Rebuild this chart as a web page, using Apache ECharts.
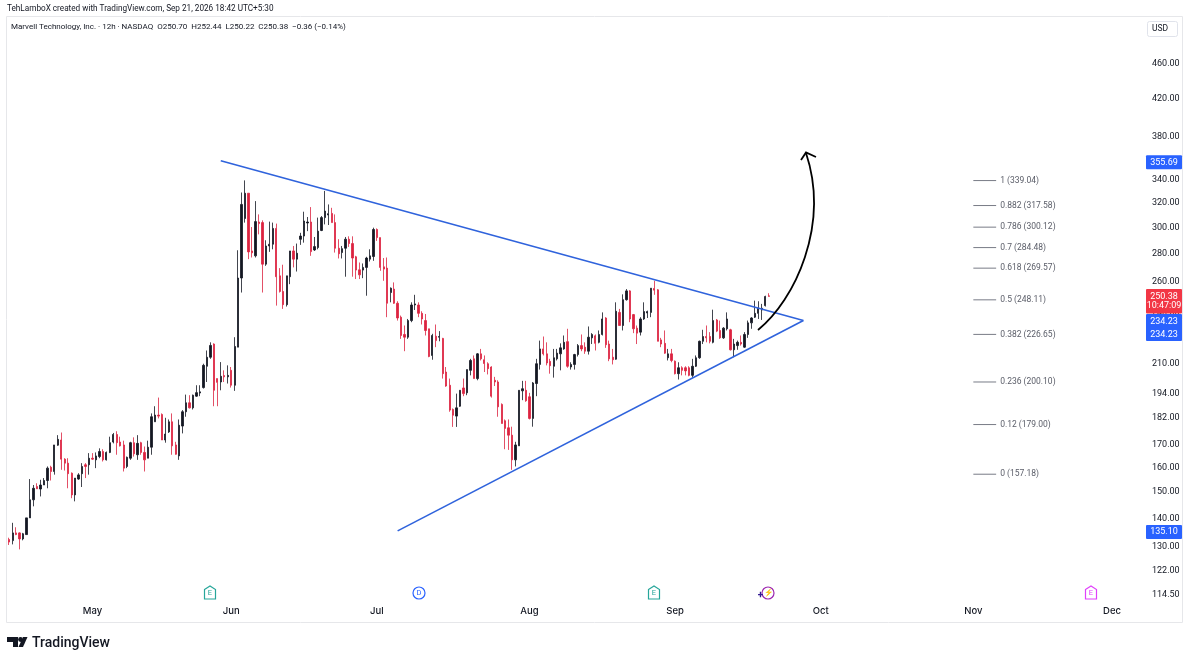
<!DOCTYPE html>
<html>
<head>
    <meta charset="utf-8">
    <title>Marvell Technology, Inc. - 12h</title>
    <script src="https://cdn.jsdelivr.net/npm/echarts@6/dist/echarts.min.js"></script>
    <style>
        body, html { margin: 0; padding: 0; height: 100%; overflow: hidden; background: #fff; }
        #main { width: 1200px; height: 662px; }
    </style>
</head>
<body>
    <div id="main"></div>
    <script>
        var opens = [132.5,132.1,134.8,134.8,132.7,134.2,140.2,147,152.2,151.2,
            152.8,154.6,160.1,158.3,169.6,171.9,163.5,161.8,157.6,148.9,
            155.2,157.4,161.1,161.1,163.9,163.2,164.6,166.8,163.2,166.4,
            171,174.4,171,169.7,160.4,163.9,170.7,165.4,170.7,166.4,
            163.9,168.7,180.3,183.5,183.8,171.9,175.6,180.3,169.7,164.9,
            178.3,185.1,189.5,187,192.8,194.4,197.2,208.5,213.5,221,
            201.9,200.1,203.5,202.8,206.3,198.4,219.2,262.7,307,328,
            282,278.4,304.2,303.7,272.4,285.7,287,299.1,264.2,253.6,
            245,263.6,282,276,290.7,293.2,303.4,304.2,282.7,284.5,
            297.5,307.7,309.8,311.1,303.7,284,280.8,284,290.8,287.5,
            277.7,268.4,268.2,270.1,276,277.9,298.3,292,270.5,269.6,
            252.9,255.2,245.9,237.1,226.6,225,235,244.8,244.8,239.5,
            235,230,214.5,225.6,225,224.3,205.4,198.4,186.2,183,
            187.8,197,194.5,206.3,212.6,201.9,215.4,212.1,209.9,208.1,
            201,200.1,188.7,180.8,177.5,174.1,163.2,169.3,195.5,195.8,
            192.5,181.9,199.3,209.5,218.2,215.4,211.2,208.5,212.6,215.4,
            218.2,222.4,208.1,209.5,215,220.1,219.2,216.9,224.6,225.8,
            222,226.6,236.6,221,213.5,212.4,240.1,232,248.2,254,
            238.7,230.4,228,236,239.7,240.1,255.6,254.7,223.4,221.4,
            213.2,215.4,211.3,204.5,207.7,207.7,207.7,203.6,208.5,213.2,
            222.6,225.4,225.4,222,235.4,229,224.6,230,229.4,217.7,
            220.1,222,219.2,226.6,233.6,237.1,239.5,241.6,244.4,250.7];
        var closes = [131.6,134.8,134.2,132.7,134.5,140.2,147,151.5,151.3,152.8,
            154.6,159.7,158.3,169.7,172.2,163.5,161.8,157.4,148.9,155.6,
            156.9,160.4,160.4,163.9,163.5,164.9,166.8,163.2,166.4,170.7,
            174.4,170.7,169.3,159.7,164.3,170.7,165.8,170.4,166.4,163.2,
            168.7,182.7,183.5,183,171.9,174.6,180.3,169.3,165.6,178.7,
            185.1,189.5,187,193.3,194.6,195,209,213.5,220.2,195.8,
            199.9,203.1,202.8,203.6,198.4,219.6,262.7,318.5,328,281.3,
            280.6,304.5,302.9,272.4,285.7,287,299.1,263.6,253.6,245,
            264.2,282,276,280.3,293.2,305,304.2,281.5,285.2,297,
            307.7,313,310.9,303.7,284,279.9,283.7,290.8,287.5,276.8,
            268.2,264.9,270.1,276.8,278.4,298.3,292,270.1,268.9,245.9,
            255.8,245.9,236.6,226,225,235,244.8,245.5,239.5,236,
            229,213.9,226,223,225.4,204.5,198,185.9,183.4,187,
            195.8,194.1,206.7,211.7,201.9,215.4,212.6,210,207.2,192.8,
            200.1,187.5,179.5,177.2,174.1,163.2,169.7,195.8,196.6,190.5,
            181.9,199.6,209.9,218.2,215.4,210.3,208.8,213.2,215.8,218.8,
            222,208.5,209.5,215,220.1,218.2,216.9,225,226.6,221.4,
            226.6,236,220.6,212.6,212.1,240.8,232,248.2,254,236,
            230,227.4,236,240.6,240.6,255.8,254.5,222.6,221,215.8,
            215.4,211.7,204.5,207.7,206.3,206,203.6,208.5,213.2,222.6,
            225.4,224.6,222.6,235,228.6,224.6,230.4,236,217.7,221,
            222,221,226.6,233.6,236.6,239.5,242.7,242.7,250.3,250.38];
        var highs = [133.1,138.4,136.8,135,134.8,140.2,155.2,152.8,153.5,154.9,
            155.6,160.4,160.7,169.7,174.1,175.3,163.9,163.9,157.9,155.6,
            157.6,161.8,161.8,166.1,166.1,166.4,168.2,167.8,166.8,173.4,
            175.1,175.9,173.4,171.6,164.6,171.1,173.1,174.1,171.1,169,
            171.6,184.3,187.8,192.1,184.3,182.2,181.4,184.3,171.1,181.4,
            185.9,193.6,193.3,193.6,198.4,198.4,209.9,217.3,222,221.4,
            201.9,210.8,206.3,209,208.1,225,282.5,328.6,339.2,328,
            300.2,321.3,310.3,305.5,290,304.5,303.7,302.9,269.6,272,
            264.2,282,285.7,287.5,295.7,312.5,308.2,316.3,292.5,307.7,
            309,330,318.5,315.7,310.3,290.8,285.7,292.5,293,293,
            278.4,273.6,272.9,277.7,283.2,299.7,299.1,292,276.8,277.2,
            256.3,259.7,247.2,238.1,232,236,246.5,251.4,246.5,240.8,
            239.1,230,227,232.6,228.6,224.6,208.1,201.9,186.7,194.1,
            195.8,201.9,206.7,212.6,214.5,215.8,218.2,214.5,210.7,208.5,
            202.8,201,189.2,181.4,181.4,178,171.1,195.8,200.7,200.7,
            194.5,200.1,212.6,223,225.4,222,212.6,218.2,218.2,221.4,
            226,230,210.7,215.4,221,226.6,222,231.4,227.4,226.6,
            229,240.1,237.1,223,218.2,246.5,242.3,251.7,255.2,254.5,
            239.1,232,237.1,246.5,241.2,255.8,260.8,255.2,224.6,229,
            218.2,218.2,211.7,210.7,208.5,208.5,208.5,212.6,214.5,223,
            229.4,232,228,241.8,236,235,231,240.1,230,224,
            223,226,228,235,237.1,247.6,247.2,245.5,250.8,252.44];
        var lows = [130.6,130.8,134,129.1,132.2,134.2,140.2,144.5,151.2,148.3,
            152.8,151.5,154.6,157,169.3,159,158.7,151.5,147.6,146.4,
            154.9,152,155.6,157,163.2,159.7,163.9,162.5,162.9,166.1,
            170.4,165.4,169,158.3,159.7,163.2,164.6,163.2,165.4,158.3,
            163.9,165.4,180.3,181.9,171.9,170.7,175.1,165.4,165.4,163.2,
            174.9,182.7,186.7,186.2,192.5,192.8,196.7,200.1,212.6,187.8,
            187.8,195.8,200.1,199.3,197.2,195.5,219.2,252.9,303.7,276,
            277.2,277.2,294.5,252.9,271.2,281.3,283.2,244.4,252.9,242.3,
            243.8,258.5,270.1,267.2,286.5,288.2,297,278.4,282,283.2,
            297,302.3,301.8,303.7,280.8,276.5,276.5,263.6,285,263.6,
            262,262,262.6,250.8,274.3,274.8,289.5,267.7,260.8,237.1,
            246.5,245.5,235,224,216.9,224,234,241.6,237.1,232.6,
            226,213.5,212.1,219.2,222.6,201.9,197.6,185.1,177.9,177.9,
            187.5,192.8,193.3,203.6,201.9,201,211.7,205.4,204.1,192.1,
            198,182.7,179.5,167.8,167.5,159,160.4,169.3,190.8,190,
            181.4,178,192.8,206.7,214.5,209,204.5,202.4,211.7,206.3,
            217.7,207.7,206.7,206.7,213.9,216.9,215.4,215,221,217.3,
            221.4,226,218.8,211.3,209.5,212.1,232,229,247.6,234,
            227.4,221,226,235.4,236.6,237.1,251.4,222.6,219.2,215.4,
            211.7,210.7,204.1,201.4,203.6,203.6,203.1,202.4,208.1,212.6,
            221,222,221.4,221.4,228,224,224,229,217.3,213.5,
            217.7,220.1,218.8,224.6,230,236.6,236,235.4,243.8,250.22];

        // x axis: 12h bars, room for the future bars on the right
        var barCount = 328;
        var monthNames = ['May', 'Jun', 'Jul', 'Aug', 'Sep', 'Oct', 'Nov', 'Dec'];
        var monthBars = [24, 64, 106, 150, 192, 234, 278, 318];

        var priceTicks = [460, 420, 380, 340, 320, 300, 280, 260, 240, 210, 194, 182, 170, 160, 150, 140, 130, 122, 114.5];

        // trendlines: [bar, price]
        var upperLine = [[61, 357.0], [229, 235.0]];
        var lowerLine = [[112, 135.5], [229, 235.0]];

        var fibNames = ['1', '0.882', '0.786', '0.7', '0.618', '0.5', '0.382', '0.236', '0.12', '0'];
        var fibPrices = [339.04, 317.58, 300.12, 284.48, 269.57, 248.11, 226.65, 200.10, 179.00, 157.18];
        var fibFrom = 278, fibTo = 284;

        var UP = '#131722', DOWN = '#dc2340', BLUE = '#2962ff', LINE = '#2f63dc';
        var FONT = 'Roboto, "Noto Sans", sans-serif';

        var categories = [];
        for (var i = 0; i < barCount; i++) categories.push('b' + i);

        var candles = opens.map(function (o, i) {
            return [o, closes[i], lows[i], highs[i]];
        });

        var trendStyle = { color: LINE, width: 1.6 };

        var chartDom = document.getElementById('main');
        var myChart = echarts.init(chartDom);

        var option = {
            animation: false,
            backgroundColor: '#fff',
            grid: { left: 7.5, right: 55, top: 18, bottom: 58 },
            xAxis: {
                type: 'category',
                data: categories,
                boundaryGap: true,
                axisLine: { show: false },
                axisTick: { show: false },
                splitLine: { show: false },
                axisLabel: {
                    margin: 2,
                    fontSize: 9.5,
                    fontWeight: 500,
                    fontFamily: 'Inter, Roboto, sans-serif',
                    color: '#131722',
                    interval: function (idx) { return monthBars.indexOf(idx) >= 0; },
                    formatter: function (v, idx) { return monthNames[monthBars.indexOf(idx)] || ''; }
                }
            },
            yAxis: {
                type: 'log',
                position: 'right',
                min: 111.9,
                max: 518.9,
                axisLine: { show: false },
                axisTick: { show: false },
                splitLine: { show: false },
                minorSplitLine: { show: false },
                axisLabel: {
                    customValues: priceTicks,
                    margin: 7,
                    fontSize: 9,
                    fontFamily: FONT,
                    color: '#131722',
                    formatter: function (v) { return Number(v).toFixed(2); }
                }
            },
            series: [
                {
                    type: 'candlestick',
                    data: candles,
                    barWidth: 1.8,
                    clip: false,
                    itemStyle: { color: UP, color0: DOWN, borderColor: UP, borderColor0: DOWN, borderWidth: 0.8 }
                },
                { type: 'line', data: upperLine, symbol: 'none', lineStyle: trendStyle, z: 3 },
                { type: 'line', data: lowerLine, symbol: 'none', lineStyle: trendStyle, z: 3 },
                {
                    type: 'custom',
                    coordinateSystem: 'cartesian2d',
                    data: fibPrices.map(function (p) { return [fibFrom, p]; }),
                    clip: false,
                    renderItem: function (params, api) {
                        var a = api.coord([fibFrom, api.value(1)]);
                        var b = api.coord([fibTo, api.value(1)]);
                        var i = params.dataIndex;
                        return {
                            type: 'group',
                            children: [
                                { type: 'line', shape: { x1: a[0], y1: a[1], x2: b[0] + 2, y2: b[1] }, style: { stroke: '#787b86', lineWidth: 1 } },
                                {
                                    type: 'text',
                                    style: {
                                        x: b[0] + 6, y: b[1],
                                        text: fibNames[i] + ' (' + fibPrices[i].toFixed(2) + ')',
                                        fill: '#5a5d68', font: '8.5px ' + FONT,
                                        verticalAlign: 'middle', align: 'left'
                                    }
                                }
                            ]
                        };
                    }
                }
            ]
        };
        myChart.setOption(option);

        // price tags sit on the axis at their price
        function tag(price, text, color, dy, h) {
            var y = myChart.convertToPixel({ yAxisIndex: 0 }, price) + (dy || 0);
            h = h || 14;
            return {
                type: 'rect', shape: { x: 1146, y: y - h / 2, width: 36, height: h, r: 1 },
                style: { fill: color }, z: 50,
                textContent: { style: { text: text, fill: '#fff', font: '9px ' + FONT, align: 'center', lineHeight: 13 }, z: 51 },
                textConfig: { position: 'inside' }
            };
        }

        function label(x, y, text, font, color, align) {
            return { type: 'text', x: x, y: y, z: 60, style: { text: text, font: font + ' ' + FONT, fill: color || '#131722', align: align || 'left', verticalAlign: 'middle' } };
        }

        function icon(x, y, color, letter, round) {
            var shape = round
                ? { type: 'circle', shape: { cx: x, cy: y, r: 6 }, style: { fill: '#fff', stroke: color, lineWidth: 1.2 } }
                : { type: 'polygon', shape: { points: [[x - 5.5, y - 3.5], [x, y - 7], [x + 5.5, y - 3.5], [x + 5.5, y + 6], [x - 5.5, y + 6]] }, style: { fill: '#fff', stroke: color, lineWidth: 1.2 } };
            return { type: 'group', z: 40, children: [shape, label(x, y + (round ? 0 : 0.5), letter, '7.5px', color, 'center')] };
        }

        var curve = { x1: 758, y1: 330, cpx1: 795, cpy1: 300, cpx2: 830, cpy2: 225, x2: 806, y2: 153 };

        myChart.setOption({
            graphic: [
                { type: 'rect', shape: { x: 6.5, y: 16.5, width: 1176, height: 606 }, style: { fill: 'none', stroke: '#e6e7ea', lineWidth: 1 }, z: 0 },
                label(7, 9, 'TehLamboX created with TradingView.com, Sep 21, 2026 18:42 UTC+5:30', '8.2px', '#131722'),
                label(11, 27, 'Marvell Technology, Inc. · 12h · NASDAQ  O250.70  H252.44  L250.22  C250.38  −0.36 (−0.14%)', '8px', '#131722'),
                { type: 'rect', shape: { x: 1147.5, y: 21.5, width: 30, height: 15, r: 2 }, style: { fill: '#fff', stroke: '#e0e3eb' }, z: 10 },
                label(1160, 29, 'USD', '8.5px', '#131722', 'center'),
                tag(355.69, '355.69', BLUE),
                tag(135.10, '135.10', BLUE),
                { type: 'rect', shape: { x: 1146, y: 314, width: 36, height: 27, r: 1 }, style: { fill: BLUE }, z: 50 },
                { type: 'rect', shape: { x: 1146, y: 289, width: 36, height: 24.5, r: 1 }, style: { fill: '#f23645' }, z: 50 },
                label(1164, 322, '234.23', '9px', '#fff', 'center'),
                label(1164, 335, '234.23', '9px', '#fff', 'center'),
                label(1164, 297, '250.38', '9px', '#fff', 'center'),
                label(1164, 306, '10:47:09', '9px', '#fff', 'center'),
                { type: 'bezierCurve', shape: curve, style: { fill: 'none', stroke: '#000', lineWidth: 1.8 }, z: 30 },
                { type: 'polyline', shape: { points: [[801, 160], [806, 152.5], [816, 157]] }, style: { fill: 'none', stroke: '#000', lineWidth: 1.8 }, z: 30 },
                icon(210, 593, '#26a69a', 'E'),
                icon(419, 593, '#2962ff', 'D', true),
                icon(654, 593, '#26a69a', 'E'),
                icon(768, 593, '#9c27b0', '⚡', true),
                label(760.5, 595, '+', 'bold 10px', '#311b92', 'center'),
                icon(1091, 593, '#e040fb', 'E'),
                { type: 'polygon', shape: { points: [[7, 637], [18, 637], [18, 647], [13, 647], [13, 642], [7, 642]] }, style: { fill: '#131722' } },
                { type: 'circle', shape: { cx: 20.5, cy: 639.5, r: 2.4 }, style: { fill: '#131722' } },
                { type: 'polygon', shape: { points: [[23, 637], [27.5, 637], [23, 647], [18.5, 647]] }, style: { fill: '#131722' } },
                label(32, 643, 'TradingView', '500 14px', '#131722')
            ]
        });

        window.addEventListener('resize', function () {
            myChart.resize();
        });
    </script>
</body>
</html>
